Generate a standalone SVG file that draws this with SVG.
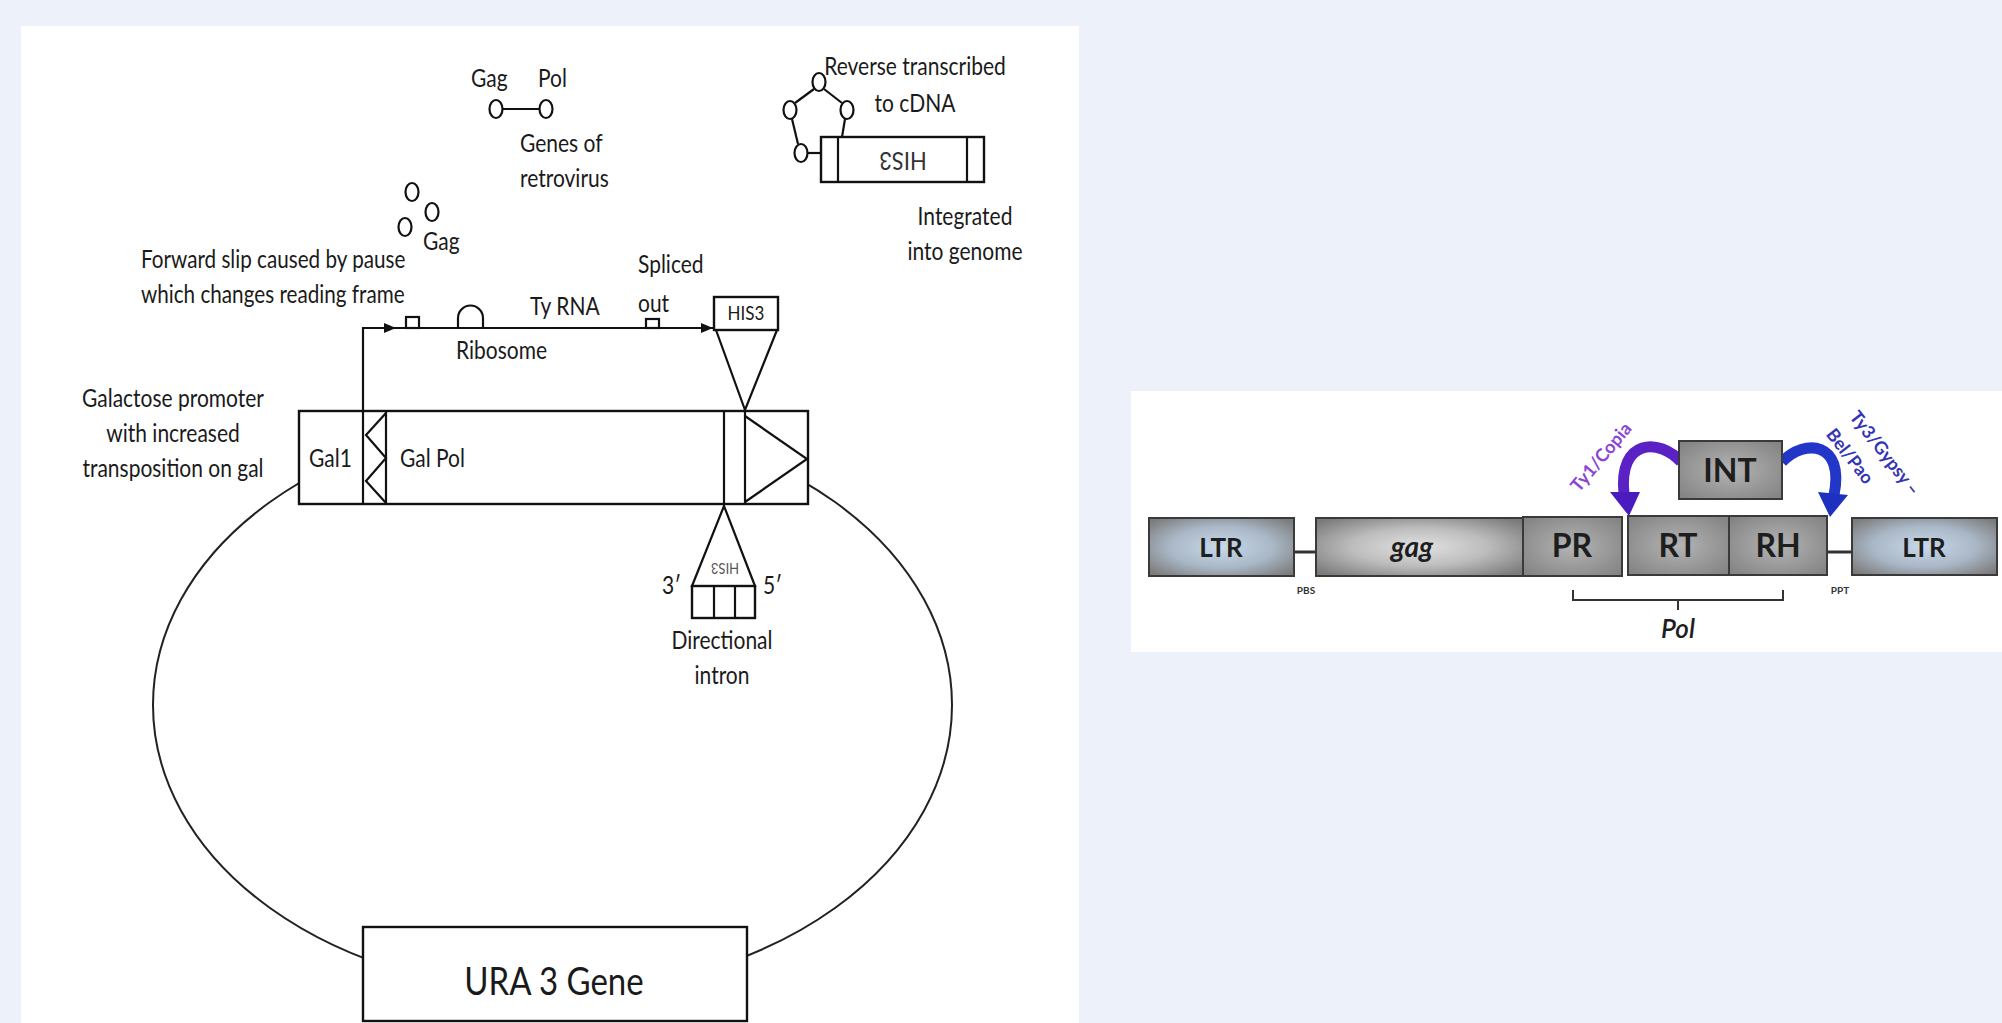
<svg xmlns="http://www.w3.org/2000/svg" width="2002" height="1023" viewBox="0 0 2002 1023">
<defs>
<style>
.t{font-family:Lato,"Open Sans","Liberation Sans",sans-serif;font-size:21px;fill:#1a1a1a}
.c{text-anchor:middle}
.ln{fill:none;stroke:#111;stroke-width:2.2}
.bx{fill:#fff;stroke:#111;stroke-width:2.4}
.rb{stroke:#3a3a3a;stroke-width:2}
.rt{font-family:Lato,"Open Sans","Liberation Sans",sans-serif;font-weight:700;fill:#1e1e1e;text-anchor:middle}
</style>
<marker id="ah" markerUnits="userSpaceOnUse" markerWidth="14" markerHeight="12" refX="12" refY="6" orient="auto">
<path d="M0,1 L12,6 L0,11 Z" fill="#111"/>
</marker>
<radialGradient id="gLTR" cx="50%" cy="50%" r="65%">
<stop offset="0" stop-color="#c9d9ea"/>
<stop offset="0.55" stop-color="#a9b7c6"/>
<stop offset="1" stop-color="#7c7c7c"/>
</radialGradient>
<radialGradient id="gGag" cx="50%" cy="50%" r="65%">
<stop offset="0" stop-color="#e2e2e2"/>
<stop offset="0.5" stop-color="#bdbdbd"/>
<stop offset="1" stop-color="#7a7a7a"/>
</radialGradient>
<radialGradient id="gBox" cx="50%" cy="50%" r="65%">
<stop offset="0" stop-color="#b4b4b4"/>
<stop offset="1" stop-color="#848484"/>
</radialGradient>
</defs>
<rect x="0" y="0" width="2002" height="1023" fill="#edf1f9"/>
<rect x="21" y="26" width="1058" height="997" fill="#fff"/>
<rect x="1131" y="391" width="871" height="261" fill="#fff"/>

<g id="plasmid">
<ellipse cx="552.5" cy="705" rx="399.5" ry="287" fill="none" stroke="#222" stroke-width="2"/>
</g>

<g id="gal-box">
<rect class="bx" x="299" y="411" width="509" height="93"/>
<line class="ln" x1="363" y1="411" x2="363" y2="504"/>
<line class="ln" x1="386" y1="411" x2="386" y2="504"/>
<polyline class="ln" points="386,413 366,435 386,458 366,481 386,503"/>
<line class="ln" x1="724" y1="411" x2="724" y2="504"/>
<line class="ln" x1="745" y1="411" x2="745" y2="504"/>
<polyline class="ln" points="745,416 807,459 745,502"/>
<text class="t" transform="translate(309,467) scale(1,1.15)">Gal1</text>
<text class="t" transform="translate(400,467) scale(1,1.15)">Gal Pol</text>
</g>

<g id="ura3">
<rect class="bx" x="363" y="927" width="384" height="94"/>
<text class="t c" transform="translate(554,995) scale(1,1.15)" style="font-size:33px">URA 3 Gene</text>
</g>

<g id="his3-top">
<rect class="bx" x="714" y="297" width="64" height="33"/>
<text class="t c" transform="translate(746,320) scale(1,1.15)" style="font-size:17px">HIS3</text>
<polyline class="ln" points="716,330 745,410 777,330"/>
</g>

<g id="intron">
<polygon class="ln" points="724,506 692,586 755,586"/>
<text class="t c" transform="translate(725,563) rotate(180) scale(1,1.15)" style="font-size:13px;fill:#555">HIS3</text>
<rect class="bx" x="692" y="586" width="63" height="32"/>
<line class="ln" x1="714" y1="586" x2="714" y2="618"/>
<line class="ln" x1="735" y1="586" x2="735" y2="618"/>
<text class="t" transform="translate(662,594) scale(1,1.15)">3′</text>
<text class="t" transform="translate(763,594) scale(1,1.15)">5′</text>
<text class="t c" transform="translate(722,649) scale(1,1.15)">Directional</text>
<text class="t c" transform="translate(722,684) scale(1,1.15)">intron</text>
</g>

<g id="gag-pol">
<ellipse class="ln" cx="496" cy="109" rx="6.5" ry="9"/>
<ellipse class="ln" cx="546" cy="109" rx="6.5" ry="9"/>
<line class="ln" x1="502.5" y1="109" x2="539.5" y2="109"/>
<text class="t" transform="translate(471,87) scale(1,1.15)">Gag</text>
<text class="t" transform="translate(538,87) scale(1,1.15)">Pol</text>
<text class="t" transform="translate(520,152) scale(1,1.15)">Genes of</text>
<text class="t" transform="translate(520,187) scale(1,1.15)">retrovirus</text>
</g>

<g id="gag-particles">
<ellipse class="ln" cx="412" cy="192" rx="6.5" ry="9"/>
<ellipse class="ln" cx="432" cy="212" rx="6.5" ry="9"/>
<ellipse class="ln" cx="405" cy="227" rx="6.5" ry="9"/>
<text class="t" transform="translate(423,250) scale(1,1.15)">Gag</text>
</g>

<g id="cdna">
<ellipse class="ln" cx="819" cy="82" rx="6.5" ry="9"/>
<ellipse class="ln" cx="790" cy="110" rx="6.5" ry="9"/>
<ellipse class="ln" cx="847" cy="110" rx="6.5" ry="9"/>
<ellipse class="ln" cx="801" cy="153" rx="6.5" ry="9"/>
<line class="ln" x1="814" y1="89" x2="795" y2="103"/>
<line class="ln" x1="824" y1="89" x2="842" y2="103"/>
<line class="ln" x1="792" y1="119" x2="798" y2="144"/>
<line class="ln" x1="845" y1="119" x2="842" y2="137"/>
<line class="ln" x1="807.5" y1="153" x2="821" y2="153"/>
<rect class="bx" x="821" y="137" width="163" height="45"/>
<line class="ln" x1="838" y1="137" x2="838" y2="182"/>
<line class="ln" x1="967" y1="137" x2="967" y2="182"/>
<text class="t c" transform="translate(903,152) rotate(180) scale(1,1.15)" style="font-size:22px;fill:#333">HIS3</text>
<text class="t c" transform="translate(915,75) scale(1,1.15)">Reverse transcribed</text>
<text class="t c" transform="translate(915,112) scale(1,1.15)">to cDNA</text>
<text class="t c" transform="translate(965,225) scale(1,1.15)">Integrated</text>
<text class="t c" transform="translate(965,260) scale(1,1.15)">into genome</text>
</g>

<g id="labels">
<text class="t" transform="translate(141,268) scale(0.985,1.15)">Forward slip caused by pause</text>
<text class="t" transform="translate(141,303) scale(0.985,1.15)">which changes reading frame</text>
<text class="t c" transform="translate(173,407) scale(1,1.15)">Galactose promoter</text>
<text class="t c" transform="translate(173,442) scale(1,1.15)">with increased</text>
<text class="t c" transform="translate(173,477) scale(1,1.15)">transposition on gal</text>
<text class="t" transform="translate(530,315) scale(1,1.15)">Ty RNA</text>
<text class="t" transform="translate(638,273) scale(1,1.15)">Spliced</text>
<text class="t" transform="translate(638,312) scale(1,1.15)">out</text>
<text class="t" transform="translate(456,359) scale(1,1.15)">Ribosome</text>
</g>

<g id="ty-rna">
<rect class="ln" x="406" y="317" width="13" height="11" style="fill:#fff"/>
<path class="ln" d="M458,328 V318 A12.5,12.5 0 0 1 483,318 V328" style="fill:#fff"/>
<rect class="ln" x="646" y="319" width="13" height="9" style="fill:#fff"/>
</g>

<g id="connectors">
<path class="ln" d="M363,411 V328 H396" marker-end="url(#ah)"/>
<line class="ln" x1="396" y1="328" x2="713" y2="328" marker-end="url(#ah)"/>
</g>

<g id="right-connectors">
<line x1="1294" y1="552" x2="1316" y2="552" stroke="#333" stroke-width="3"/>
<line x1="1827" y1="552" x2="1852" y2="552" stroke="#333" stroke-width="3"/>
<path d="M1573,590 V600 H1783 V590 M1678,600 V610" fill="none" stroke="#333" stroke-width="2"/>
<path d="M1681,462 C1660,438 1618,438 1624,494" fill="none" stroke="#5a22c4" stroke-width="11"/>
<polygon points="1610,492 1640,492 1629,516" fill="#4a1cc0"/>
<path d="M1782,462 C1805,438 1845,442 1834,495" fill="none" stroke="#2236c8" stroke-width="11"/>
<polygon points="1818,492 1848,495 1830,517" fill="#1e30c0"/>
</g>
<g id="ltr1"><rect class="rb" x="1149" y="518" width="145" height="58" fill="url(#gLTR)"/><text class="rt" x="1221" y="557" style="font-size:26px">LTR</text></g>
<g id="gag"><rect class="rb" x="1316" y="518" width="207" height="58" fill="url(#gGag)"/><text class="rt" x="1412" y="557" style="font-size:28px;font-style:italic">gag</text></g>
<g id="pr"><rect class="rb" x="1523" y="517" width="99" height="59" fill="url(#gBox)"/><text class="rt" x="1572" y="557" style="font-size:32px">PR</text></g>
<g id="rt"><rect class="rb" x="1628" y="516" width="101" height="59" fill="url(#gBox)"/><text class="rt" x="1678" y="557" style="font-size:32px">RT</text></g>
<g id="rh"><rect class="rb" x="1729" y="516" width="98" height="59" fill="url(#gBox)"/><text class="rt" x="1778" y="557" style="font-size:32px">RH</text></g>
<g id="ltr2"><rect class="rb" x="1852" y="518" width="145" height="57" fill="url(#gLTR)"/><text class="rt" x="1924" y="557" style="font-size:26px">LTR</text></g>
<g id="int"><rect class="rb" x="1679" y="441" width="103" height="58" fill="url(#gBox)"/><text class="rt" x="1730" y="482" style="font-size:32px">INT</text></g>
<g id="right-labels">
<text class="rt" x="1306" y="594" style="font-size:10px;fill:#333">PBS</text>
<text class="rt" x="1840" y="594" style="font-size:10px;fill:#333">PPT</text>
<text class="rt" x="1678" y="638" style="font-size:26px;font-style:italic;font-weight:600">Pol</text>
<text class="rt" transform="translate(1601,457) rotate(-50)" dy="0.35em" style="font-size:18px;fill:#8a44d4">Ty1/Copia</text>
<text class="rt" transform="translate(1885,453) rotate(52)" dy="0.35em" style="font-size:18px;fill:#3434b4">Ty3/Gypsy –</text>
<text class="rt" transform="translate(1850,456) rotate(52)" dy="0.35em" style="font-size:18px;fill:#3434b4">Bel/Pao</text>
</g>
</svg>
